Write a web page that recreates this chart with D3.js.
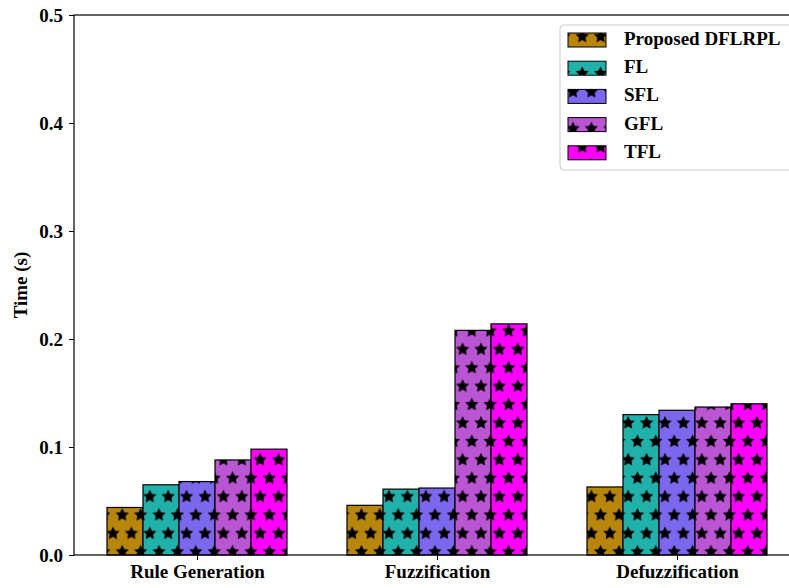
<!DOCTYPE html>
<html>
<head>
<meta charset="utf-8">
<script src="https://cdn.jsdelivr.net/npm/d3@7"></script>
<style>
  html, body { margin: 0; padding: 0; background: #fff; }
  svg { display: block; }
  text { font-family: "Liberation Serif", "Times New Roman", serif; font-weight: bold; fill: #000; }
</style>
</head>
<body>
<svg id="chart" width="789" height="588"></svg>
<script>
// Processing time of each stage, per method
const categories = ["Rule Generation", "Fuzzification", "Defuzzification"];
const methods = ["Proposed DFLRPL", "FL", "SFL", "GFL", "TFL"];
const colors = ["#b8860b", "#20b2aa", "#7b68ee", "#ba55d3", "#ff00ff"];
const proposedDFLRPL = [0.044, 0.046, 0.063];
const fl = [0.065, 0.061, 0.130];
const sfl = [0.068, 0.062, 0.134];
const gfl = [0.088, 0.208, 0.137];
const tfl = [0.098, 0.214, 0.140];
const yTicks = [0.0, 0.1, 0.2, 0.3, 0.4, 0.5];

const series = [proposedDFLRPL, fl, sfl, gfl, tfl];

const svg = d3.select("#chart");
const margin = { left: 74, top: 15, right: 800, bottom: 555 };
const fontSize = "19px";

// Numeric category axis: groups at 0,1,2, bars 0.15 wide, 5% padding
const barW = 0.15;
const x = d3.scaleLinear().domain([-0.5125, 2.5125]).range([margin.left, margin.right]);
const y = d3.scaleLinear().domain([0, 0.5]).range([margin.bottom, margin.top]);

// Star hatch pattern shared by bars and legend swatches
const cell = 18.4;
const defs = svg.append("defs");
function starPath(cx, cy, r) {
  const pts = [];
  for (let i = 0; i < 10; i++) {
    const a = -Math.PI / 2 + i * Math.PI / 5;
    const rr = i % 2 === 0 ? r : r * 0.5;
    pts.push([cx + rr * Math.cos(a), cy + rr * Math.sin(a)]);
  }
  return "M" + pts.map(p => p[0].toFixed(2) + "," + p[1].toFixed(2)).join("L") + "Z";
}
colors.forEach((c, i) => {
  const p = defs.append("pattern")
    .attr("id", "hatch" + i)
    .attr("patternUnits", "userSpaceOnUse")
    .attr("x", 113 - cell).attr("y", 515 - cell)
    .attr("width", cell).attr("height", cell * 2);
  p.append("rect").attr("width", cell).attr("height", cell * 2).attr("fill", c);
  const r = cell * 0.38;
  let d = "";
  [[0, 0], [cell, 0], [0, 2 * cell], [cell, 2 * cell], [cell / 2, cell]].forEach(([sx, sy]) => {
    d += starPath(sx, sy, r);
  });
  p.append("path").attr("d", d).attr("fill", "#000");
});

// Bars
series.forEach((vals, si) => {
  svg.append("g").selectAll("rect")
    .data(vals)
    .join("rect")
    .attr("x", (d, ci) => x(ci + (si - 2) * barW - barW / 2))
    .attr("width", x(barW) - x(0))
    .attr("y", d => y(d))
    .attr("height", d => y(0) - y(d))
    .attr("fill", `url(#hatch${si})`)
    .attr("stroke", "#000")
    .attr("stroke-width", 1.2);
});

// Axes
const yAxis = d3.axisLeft(y).tickValues(yTicks).tickFormat(d3.format(".1f")).tickSize(5).tickPadding(6);
const gy = svg.append("g").attr("transform", `translate(${margin.left},0)`).call(yAxis);
gy.select(".domain").remove();
gy.selectAll("text").style("font-size", fontSize).style("font-family", "Liberation Serif").style("font-weight", "bold");

const xAxis = d3.axisBottom(x).tickValues([0, 1, 2]).tickFormat(i => categories[i]).tickSize(5).tickPadding(5);
const gx = svg.append("g").attr("transform", `translate(0,${margin.bottom})`).call(xAxis);
gx.select(".domain").remove();
gx.selectAll("text").style("font-size", fontSize).style("font-family", "Liberation Serif").style("font-weight", "bold");

// Frame
svg.append("rect")
  .attr("x", margin.left).attr("y", margin.top)
  .attr("width", margin.right - margin.left).attr("height", margin.bottom - margin.top)
  .attr("fill", "none").attr("stroke", "#000").attr("stroke-width", 1.2);

// Axis title
svg.append("text")
  .attr("transform", `translate(27,${(margin.top + margin.bottom) / 2}) rotate(-90)`)
  .attr("text-anchor", "middle")
  .style("font-size", fontSize)
  .text("Time (s)");

// Legend
const lg = svg.append("g");
lg.append("rect")
  .attr("x", 560).attr("y", 25).attr("width", 240).attr("height", 145)
  .attr("rx", 4).attr("fill", "#fff").attr("fill-opacity", 0.8)
  .attr("stroke", "#cccccc").attr("stroke-width", 1);
methods.forEach((m, i) => {
  const cy = 40 + i * 28.2;
  lg.append("rect")
    .attr("x", 568).attr("y", cy - 7).attr("width", 38).attr("height", 14)
    .attr("fill", `url(#hatch${i})`).attr("stroke", "#000").attr("stroke-width", 1);
  lg.append("text")
    .attr("x", 624).attr("y", cy + 5)
    .style("font-size", fontSize)
    .text(m);
});
</script>
</body>
</html>
